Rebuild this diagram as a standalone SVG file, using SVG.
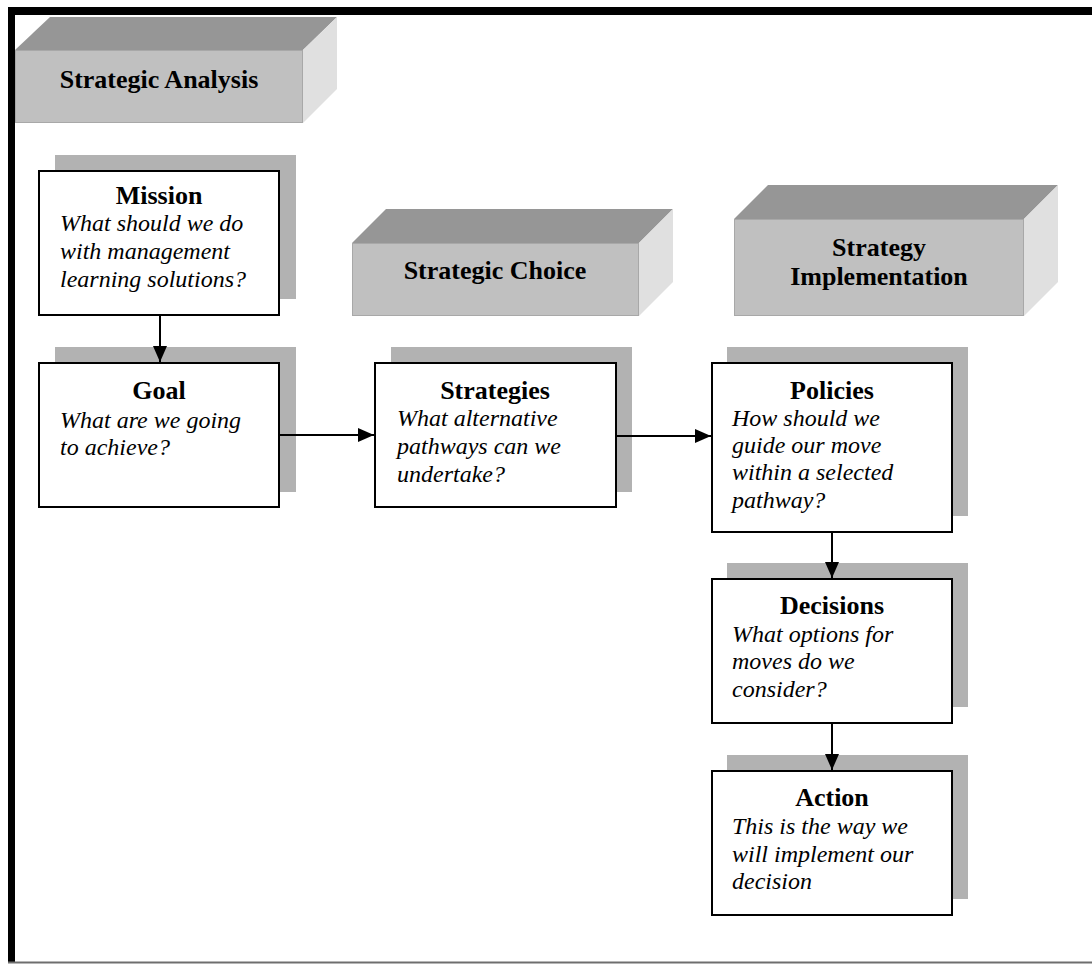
<svg xmlns="http://www.w3.org/2000/svg" width="1092" height="964" viewBox="0 0 1092 964">
<style>
.title{font-family:"Liberation Serif","Times New Roman",serif;font-weight:bold;font-size:26px;fill:#000;text-anchor:middle}
.hdr{font-family:"Liberation Serif","Times New Roman",serif;font-weight:bold;font-size:26px;fill:#000;text-anchor:middle}
.q{font-family:"Liberation Serif","Times New Roman",serif;font-style:italic;font-size:24px;fill:#000}
.box{fill:#fff;stroke:#000;stroke-width:2}
.shadow{fill:#b2b2b2}
.front{fill:#c0c0c0;stroke:#a8a8a8;stroke-width:1}
.top{fill:#969696}
.side{fill:#e0e0e0}
.conn{stroke:#000;stroke-width:2;fill:none}
</style>
<defs>
<marker id="ah" viewBox="0 0 16 14" refX="16" refY="7" markerWidth="16" markerHeight="14" orient="auto" markerUnits="userSpaceOnUse">
<path d="M0,0 L16,7 L0,14 z" fill="#000"/>
</marker>
</defs>
<rect x="0" y="0" width="1092" height="964" fill="#fff"/>
<g id="frame">
<rect x="8" y="7" width="1084" height="8" fill="#000"/>
<rect x="8" y="7" width="7" height="956" fill="#000"/>
<line x1="8" y1="962.5" x2="1092" y2="962.5" stroke="#6e6e6e" stroke-width="2"/>
</g>
<g id="hdr-analysis">
<polygon class="top" points="15,50 50,17 337,17 303,50"/>
<polygon class="side" points="303,50 337,17 337,89 303,123"/>
<rect class="front" x="15.5" y="50.5" width="287" height="72"/>
<text class="hdr" x="159" y="88">Strategic Analysis</text>
</g>
<g id="hdr-choice">
<polygon class="top" points="352,243 386,209 673,209 639,243"/>
<polygon class="side" points="639,243 673,209 673,282 639,316"/>
<rect class="front" x="352.5" y="243.5" width="286" height="72"/>
<text class="hdr" x="495" y="279">Strategic Choice</text>
</g>
<g id="hdr-impl">
<polygon class="top" points="734,219 768,185 1058,185 1024,219"/>
<polygon class="side" points="1024,219 1058,185 1058,282 1024,316"/>
<rect class="front" x="734.5" y="219.5" width="289" height="96"/>
<text class="hdr" x="879" y="256">Strategy</text>
<text class="hdr" x="879" y="285">Implementation</text>
</g>
<g id="mission">
<rect class="shadow" x="55" y="155" width="241" height="144"/>
<rect class="box" x="39" y="171" width="240" height="144"/>
<text class="title" x="159" y="204">Mission</text>
<text class="q" x="60" y="231">What should we do</text>
<text class="q" x="60" y="259">with management</text>
<text class="q" x="60" y="287">learning solutions?</text>
</g>
<g id="goal">
<rect class="shadow" x="55" y="347" width="241" height="145"/>
<rect class="box" x="39" y="363" width="240" height="144"/>
<text class="title" x="159" y="399">Goal</text>
<text class="q" x="60" y="428">What are we going</text>
<text class="q" x="60" y="455">to achieve?</text>
</g>
<g id="strategies">
<rect class="shadow" x="391" y="347" width="241" height="145"/>
<rect class="box" x="375" y="363" width="241" height="144"/>
<text class="title" x="495" y="399">Strategies</text>
<text class="q" x="397" y="426">What alternative</text>
<text class="q" x="397" y="454">pathways can we</text>
<text class="q" x="397" y="482">undertake?</text>
</g>
<g id="policies">
<rect class="shadow" x="727" y="347" width="241" height="169"/>
<rect class="box" x="712" y="363" width="240" height="169"/>
<text class="title" x="832" y="399">Policies</text>
<text class="q" x="732" y="426">How should we</text>
<text class="q" x="732" y="453">guide our move</text>
<text class="q" x="732" y="480">within a selected</text>
<text class="q" x="732" y="508">pathway?</text>
</g>
<g id="decisions">
<rect class="shadow" x="727" y="563" width="241" height="144"/>
<rect class="box" x="712" y="579" width="240" height="144"/>
<text class="title" x="832" y="614">Decisions</text>
<text class="q" x="732" y="642">What options for</text>
<text class="q" x="732" y="669">moves do we</text>
<text class="q" x="732" y="697">consider?</text>
</g>
<g id="action">
<rect class="shadow" x="727" y="755" width="241" height="144"/>
<rect class="box" x="712" y="771" width="240" height="144"/>
<text class="title" x="832" y="806">Action</text>
<text class="q" x="732" y="834">This is the way we</text>
<text class="q" x="732" y="862">will implement our</text>
<text class="q" x="732" y="889">decision</text>
</g>
<g id="connectors">
<line class="conn" x1="160" y1="316" x2="160" y2="362" marker-end="url(#ah)"/>
<line class="conn" x1="280" y1="435" x2="374" y2="435" marker-end="url(#ah)"/>
<line class="conn" x1="617" y1="436" x2="711" y2="436" marker-end="url(#ah)"/>
<line class="conn" x1="832" y1="533" x2="832" y2="578" marker-end="url(#ah)"/>
<line class="conn" x1="832" y1="724" x2="832" y2="770" marker-end="url(#ah)"/>
</g>
</svg>
